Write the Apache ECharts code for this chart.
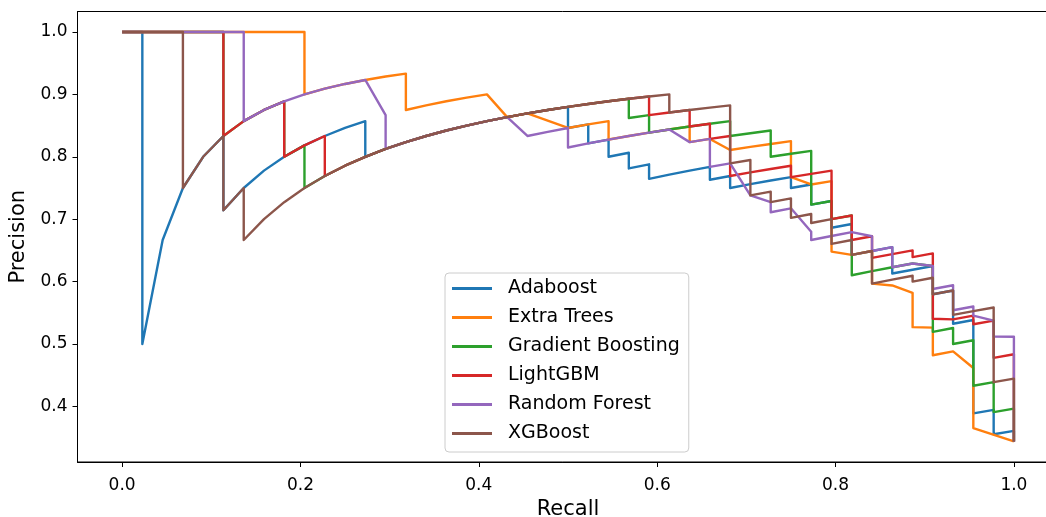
<!DOCTYPE html>
<html>
<head>
<meta charset="utf-8">
<title>Precision-Recall</title>
<script src="https://cdn.jsdelivr.net/npm/echarts@6/dist/echarts.min.js"></script>
<style>
  html, body { margin: 0; padding: 0; background: #fff; }
  #main { width: 1046px; height: 517px; }
</style>
</head>
<body>
<div id="main"></div>
<script>
// tick labels
const xTicks = [0, 0.2, 0.4, 0.6, 0.8, 1.0];
const yTicks = [0.4, 0.5, 0.6, 0.7, 0.8, 0.9, 1.0];

const modelNames = ['Adaboost', 'Extra Trees', 'Gradient Boosting', 'LightGBM', 'Random Forest', 'XGBoost'];

// [recall, precision] points
const adaboost = [[0,1],[0.0227,1],[0.0227,0.5],[0.0455,0.6667],[0.0682,0.75],[0.0909,0.8],[0.1136,0.8333],[0.1136,0.7143],[0.1364,0.75],[0.1591,0.7778],[0.1818,0.8],[0.2045,0.8182],[0.2273,0.8333],[0.25,0.8462],[0.2727,0.8571],[0.2727,0.8],[0.2955,0.8125],[0.3182,0.8235],[0.3409,0.8333],[0.3636,0.8421],[0.3864,0.85],[0.4091,0.8571],[0.4318,0.8636],[0.4545,0.8696],[0.4773,0.875],[0.5,0.88],[0.5,0.8462],[0.5227,0.8519],[0.5227,0.8214],[0.5455,0.8276],[0.5455,0.8],[0.5682,0.8065],[0.5682,0.7813],[0.5909,0.7879],[0.5909,0.7647],[0.6136,0.7714],[0.6364,0.7778],[0.6591,0.7838],[0.6591,0.7632],[0.6818,0.7692],[0.6818,0.75],[0.7045,0.7561],[0.7273,0.7619],[0.75,0.7674],[0.75,0.75],[0.7727,0.7556],[0.7727,0.7234],[0.7955,0.7292],[0.7955,0.6863],[0.8182,0.6923],[0.8182,0.6429],[0.8409,0.6491],[0.8636,0.6552],[0.8636,0.6129],[0.8864,0.619],[0.9091,0.625],[0.9091,0.5797],[0.9318,0.5857],[0.9318,0.5325],[0.9545,0.5385],[0.9545,0.3889],[0.9773,0.3945],[0.9773,0.3554],[1,0.3607],[1,0.3438]];

const extraTrees = [[0,1],[0.2045,1],[0.2045,0.9],[0.2273,0.9091],[0.25,0.9167],[0.2727,0.9231],[0.2955,0.9286],[0.3182,0.9333],[0.3182,0.875],[0.3409,0.8824],[0.3636,0.8889],[0.3864,0.8947],[0.4091,0.9],[0.4318,0.8636],[0.4545,0.8696],[0.5,0.8462],[0.5227,0.8519],[0.5455,0.8571],[0.5455,0.8276],[0.5682,0.8333],[0.5909,0.8387],[0.6136,0.8438],[0.6364,0.8485],[0.6364,0.8235],[0.6591,0.8286],[0.6818,0.8108],[0.7045,0.8158],[0.7273,0.8205],[0.75,0.825],[0.75,0.7674],[0.7727,0.7556],[0.7955,0.7609],[0.7955,0.6481],[0.8182,0.6429],[0.8409,0.6491],[0.8409,0.5968],[0.8636,0.5938],[0.8864,0.5821],[0.8864,0.527],[0.9091,0.5263],[0.9091,0.4819],[0.9318,0.4881],[0.9545,0.4615],[0.9545,0.3652],[1,0.3438]];

const gradientBoosting = [[0,1],[0.1136,1],[0.1136,0.8333],[0.1364,0.8571],[0.1591,0.875],[0.1818,0.8889],[0.1818,0.8],[0.2045,0.8182],[0.2045,0.75],[0.2273,0.7692],[0.25,0.7857],[0.2727,0.8],[0.2955,0.8125],[0.3182,0.8235],[0.3409,0.8333],[0.3636,0.8421],[0.3864,0.85],[0.4091,0.8571],[0.4318,0.8636],[0.4545,0.8696],[0.4773,0.875],[0.5,0.88],[0.5227,0.8846],[0.5455,0.8889],[0.5682,0.8929],[0.5682,0.8621],[0.5909,0.8667],[0.5909,0.8387],[0.6136,0.8438],[0.6364,0.8485],[0.6591,0.8529],[0.6818,0.8571],[0.6818,0.8333],[0.7045,0.8378],[0.7273,0.8421],[0.7273,0.8],[0.75,0.8049],[0.7727,0.8095],[0.7727,0.7234],[0.7955,0.7292],[0.7955,0.7],[0.8182,0.7059],[0.8182,0.6102],[0.8409,0.6167],[0.8636,0.623],[0.8864,0.629],[0.9091,0.625],[0.9091,0.5195],[0.9318,0.5256],[0.9318,0.5],[0.9545,0.506],[0.9545,0.433],[0.9773,0.4388],[0.9773,0.3909],[1,0.3964],[1,0.3438]];

const lightGBM = [[0,1],[0.1136,1],[0.1136,0.8333],[0.1364,0.8571],[0.1591,0.875],[0.1818,0.8889],[0.1818,0.8],[0.2045,0.8182],[0.2273,0.8333],[0.2273,0.7692],[0.25,0.7857],[0.2727,0.8],[0.2955,0.8125],[0.3182,0.8235],[0.3409,0.8333],[0.3636,0.8421],[0.3864,0.85],[0.4091,0.8571],[0.4318,0.8636],[0.4545,0.8696],[0.4773,0.875],[0.5,0.88],[0.5227,0.8846],[0.5455,0.8889],[0.5682,0.8929],[0.5909,0.8966],[0.5909,0.8667],[0.6136,0.871],[0.6364,0.875],[0.6364,0.8485],[0.6591,0.8529],[0.6591,0.8286],[0.6818,0.8333],[0.6818,0.7692],[0.7045,0.775],[0.7273,0.7805],[0.75,0.7857],[0.75,0.7674],[0.7727,0.7727],[0.7955,0.7778],[0.7955,0.7],[0.8182,0.7059],[0.8182,0.6667],[0.8409,0.6727],[0.8409,0.6379],[0.8636,0.6441],[0.8864,0.65],[0.8864,0.6393],[0.9091,0.6452],[0.9091,0.5405],[0.9318,0.5395],[0.9545,0.5455],[0.9545,0.5316],[0.9773,0.5375],[0.9773,0.4778],[1,0.4835],[1,0.3438]];

const randomForest = [[0,1],[0.1364,1],[0.1364,0.8571],[0.1591,0.875],[0.1818,0.8889],[0.2045,0.9],[0.2273,0.9091],[0.25,0.9167],[0.2727,0.9231],[0.2955,0.8667],[0.2955,0.8125],[0.3182,0.8235],[0.3409,0.8333],[0.3636,0.8421],[0.3864,0.85],[0.4091,0.8571],[0.4318,0.8636],[0.4545,0.8333],[0.4773,0.84],[0.5,0.8462],[0.5,0.8148],[0.5227,0.8214],[0.5455,0.8276],[0.5682,0.8333],[0.5909,0.8387],[0.6136,0.8438],[0.6364,0.8235],[0.6591,0.8286],[0.6591,0.7838],[0.6818,0.7895],[0.7045,0.7381],[0.7273,0.7273],[0.7273,0.7111],[0.75,0.7174],[0.7727,0.68],[0.7727,0.6667],[0.7955,0.6731],[0.8182,0.6792],[0.8409,0.6727],[0.8409,0.6491],[0.8636,0.6552],[0.8636,0.623],[0.8864,0.629],[0.9091,0.625],[0.9091,0.5882],[0.9318,0.5942],[0.9318,0.554],[0.9545,0.56],[0.9545,0.5455],[0.9773,0.5375],[0.9773,0.5119],[1,0.5116],[1,0.3438]];

const xgBoost = [[0,1],[0.0682,1],[0.0682,0.75],[0.0909,0.8],[0.1136,0.8333],[0.1136,0.7143],[0.1364,0.75],[0.1364,0.6667],[0.1591,0.7],[0.1818,0.7273],[0.2045,0.75],[0.2273,0.7692],[0.25,0.7857],[0.2727,0.8],[0.2955,0.8125],[0.3182,0.8235],[0.3409,0.8333],[0.3636,0.8421],[0.3864,0.85],[0.4091,0.8571],[0.4318,0.8636],[0.4545,0.8696],[0.4773,0.875],[0.5,0.88],[0.5227,0.8846],[0.5455,0.8889],[0.5682,0.8929],[0.5909,0.8966],[0.6136,0.9],[0.6136,0.871],[0.6364,0.875],[0.6591,0.8788],[0.6818,0.8824],[0.6818,0.7895],[0.7045,0.7949],[0.7045,0.7381],[0.7273,0.7442],[0.7273,0.7273],[0.75,0.7333],[0.75,0.7021],[0.7727,0.7083],[0.7727,0.6939],[0.7955,0.7],[0.7955,0.6604],[0.8182,0.6667],[0.8182,0.6429],[0.8409,0.6491],[0.8409,0.5968],[0.8636,0.6032],[0.8864,0.6094],[0.8864,0.6],[0.9091,0.6061],[0.9091,0.5797],[0.9318,0.5857],[0.9318,0.5467],[0.9545,0.5526],[0.9773,0.5584],[0.9773,0.4388],[1,0.4444],[1,0.3438]];

const curves = [adaboost, extraTrees, gradientBoosting, lightGBM, randomForest, xgBoost];
const colors = ['#1f77b4', '#ff7f0e', '#2ca02c', '#d62728', '#9467bd', '#8c564b'];

const font = 'DejaVu Sans';
const chart = echarts.init(document.getElementById('main'), null, { renderer: 'canvas' });

let series = [];
for (let i = 0; i < curves.length; i++) {
  series.push({
    name: modelNames[i],
    type: 'line',
    data: curves[i],
    symbol: 'none',
    showSymbol: false,
    smooth: false,
    lineStyle: { width: 2.4, color: colors[i], join: 'round' },
    itemStyle: { color: colors[i] }
  });
}

const option = {
  animation: false,
  backgroundColor: '#fff',
  color: colors,
  grid: {
    left: 77.5,
    right: -12.5,
    top: 11.5,
    bottom: 55,
    outerBoundsMode: 'none',
    containLabel: false,
    show: true,
    borderColor: '#000',
    borderWidth: 1
  },
  legend: {
    data: modelNames,
    orient: 'vertical',
    left: 445,
    top: 273,
    padding: [4, 9, 7, 7],
    itemGap: 6,
    icon: 'rect',
    itemWidth: 40,
    itemHeight: 3,
    backgroundColor: 'rgba(255,255,255,0.8)',
    borderColor: '#cccccc',
    borderWidth: 1,
    borderRadius: 4,
    textStyle: {
      fontFamily: font,
      fontSize: 19,
      lineHeight: 23,
      color: '#000',
      padding: [0, 0, 0, 11]
    }
  },
  xAxis: {
    type: 'value',
    min: -0.05,
    max: 1.05,
    name: 'Recall',
    nameLocation: 'middle',
    nameGap: 37,
    nameTextStyle: { fontFamily: font, fontSize: 21, color: '#000' },
    axisLine: { show: true, onZero: false, lineStyle: { color: '#000', width: 1 } },
    axisTick: { show: true, length: 5, customValues: xTicks, lineStyle: { color: '#000' } },
    axisLabel: {
      customValues: xTicks,
      margin: 15,
      fontFamily: font,
      fontSize: 17,
      color: '#000',
      formatter: (v) => v.toFixed(1)
    },
    splitLine: { show: false }
  },
  yAxis: {
    type: 'value',
    min: 0.3109,
    max: 1.0328,
    name: 'Precision',
    nameLocation: 'middle',
    nameGap: 48,
    nameTextStyle: { fontFamily: font, fontSize: 21, color: '#000' },
    axisLine: { show: true, onZero: false, lineStyle: { color: '#000', width: 1 } },
    axisTick: { show: true, length: 5, customValues: yTicks, lineStyle: { color: '#000' } },
    axisLabel: {
      customValues: yTicks,
      margin: 10,
      fontFamily: font,
      fontSize: 17,
      color: '#000',
      formatter: (v) => v.toFixed(1)
    },
    splitLine: { show: false }
  },
  series: series
};

chart.setOption(option);
</script>
</body>
</html>
